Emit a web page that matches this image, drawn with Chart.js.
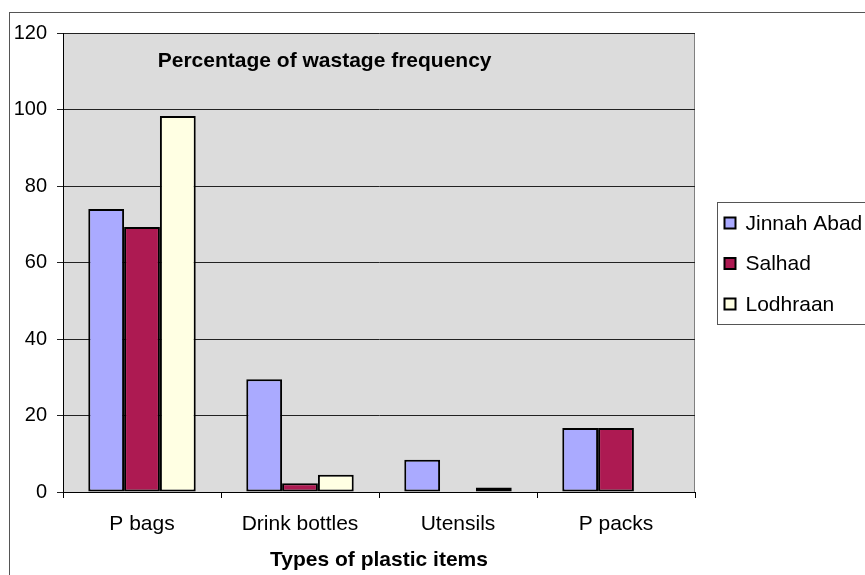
<!DOCTYPE html>
<html>
<head>
<meta charset="utf-8">
<script src="https://cdn.jsdelivr.net/npm/chart.js@4/dist/chart.umd.min.js"></script>
<style>
    html, body { margin: 0; padding: 0; background: #fff; }
    #wrap { width: 865px; height: 575px; position: relative; }
</style>
</head>
<body>
<div id="wrap"><canvas id="chart" width="865" height="575"></canvas></div>
<script>
const categories = ['P bags', 'Drink bottles', 'Utensils', 'P packs'];
const seriesNames = ['Jinnah Abad', 'Salhad', 'Lodhraan'];
const jinnahAbad = [74, 29.5, 8.4, 16.7];
const salhad = [69.3, 2.3, 0, 16.7];
const lodhraan = [98.3, 4.5, 1.2, 0];
const yTicks = [0, 20, 40, 60, 80, 100, 120];

const colors = ['#AAAAFF', '#AD1A52', '#FFFFE3'];
const FONT = 'Arial, "Liberation Sans", sans-serif';

// grey plot background, outer frame and inner title
const decor = {
    id: 'decor',
    beforeDraw(chart) {
        const c = chart.ctx;
        const a = chart.chartArea;
        c.save();
        c.fillStyle = '#fff';
        c.fillRect(0, 0, chart.width, chart.height);
        c.strokeStyle = '#555';
        c.lineWidth = 1;
        c.strokeRect(9.5, 12.5, chart.width + 10, chart.height + 10);
        c.fillStyle = '#DCDCDC';
        c.fillRect(a.left, a.top, a.right - a.left, a.bottom - a.top);
        c.strokeStyle = '#808080';
        c.beginPath();
        c.moveTo(a.right - 0.5, a.top);
        c.lineTo(a.right - 0.5, a.bottom);
        c.stroke();
        c.restore();
    },
    afterDatasetsDraw(chart) {
        const c = chart.ctx;
        const a = chart.chartArea;
        c.save();
        c.font = 'bold 21px ' + FONT;
        c.fillStyle = '#000';
        c.textAlign = 'center';
        c.textBaseline = 'middle';
        c.fillText('Percentage of wastage frequency', a.left + (a.right - a.left) * 0.414, a.top + 28);
        c.restore();
    },
    afterDraw(chart) {
        // legend box
        const c = chart.ctx;
        const a = chart.chartArea;
        const mid = (a.top + a.bottom) / 2 + 1;
        const boxL = a.right + 22.5;
        c.save();
        c.strokeStyle = '#555';
        c.lineWidth = 1;
        c.strokeRect(boxL, mid - 61, 200, 122);
        c.font = '21px ' + FONT;
        c.textBaseline = 'middle';
        c.textAlign = 'left';
        chart.data.datasets.forEach((ds, i) => {
            const y = mid + (i - 1) * 40.5;
            c.fillStyle = ds.backgroundColor;
            c.fillRect(boxL + 7, y - 5.5, 11, 11);
            c.strokeStyle = '#000';
            c.lineWidth = 2;
            c.strokeRect(boxL + 7, y - 5.5, 11, 11);
            c.fillStyle = '#000';
            c.fillText(ds.label, boxL + 28, y + 1);
        });
        c.restore();
    }
};

const datasets = [jinnahAbad, salhad, lodhraan].map((vals, i) => ({
    label: seriesNames[i],
    data: vals,
    backgroundColor: colors[i],
    borderColor: '#000',
    borderWidth: 2,
    borderSkipped: false,
    barPercentage: 1.0,
    categoryPercentage: 0.68
}));

new Chart(document.getElementById('chart'), {
    type: 'bar',
    data: { labels: categories, datasets: datasets },
    options: {
        responsive: false,
        animation: false,
        events: [],
        layout: { padding: { left: 10, top: 33, right: 170, bottom: 0 } },
        plugins: {
            legend: { display: false },
            tooltip: { enabled: false },
            title: { display: false }
        },
        scales: {
            x: {
                offset: true,
                afterFit(scale) { scale.height = 83; },
                grid: { display: true, drawOnChartArea: false, drawTicks: true, tickLength: 6, color: '#000' },
                border: { display: true, color: '#000', width: 1 },
                ticks: { color: '#000', font: { family: FONT, size: 21 }, padding: 14, maxRotation: 0 },
                title: {
                    display: true,
                    text: 'Types of plastic items',
                    color: '#000',
                    font: { family: FONT, size: 21, weight: 'bold' },
                    padding: { top: 0, bottom: 2 }
                }
            },
            y: {
                min: 0,
                max: 120,
                afterFit(scale) { scale.width = 53; },
                afterBuildTicks(scale) { scale.ticks = yTicks.map(v => ({ value: v })); },
                grid: { color: '#222', lineWidth: 1, drawTicks: true, tickLength: 6 },
                border: { display: true, color: '#000', width: 1 },
                ticks: { color: '#000', font: { family: FONT, size: 20 }, padding: 10 }
            }
        }
    },
    plugins: [decor]
});
</script>
</body>
</html>
